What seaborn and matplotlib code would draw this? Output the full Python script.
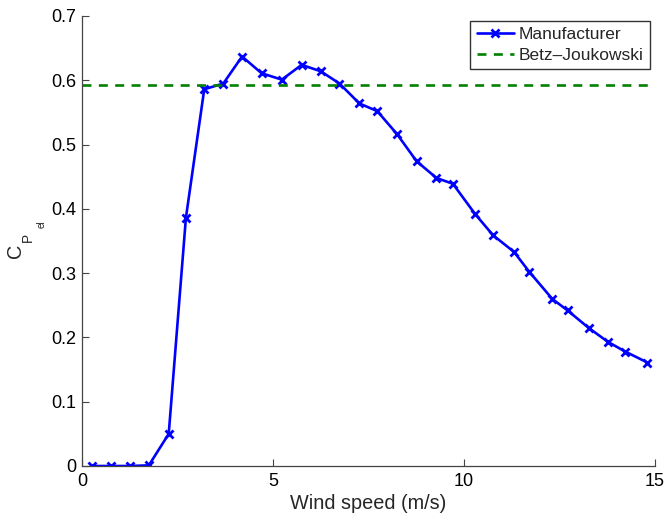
import matplotlib
matplotlib.use("Agg")
import matplotlib.pyplot as plt
import seaborn as sns
import pandas as pd

# Power coefficient curve from the manufacturer's datasheet
wind_speed = [0.25, 0.75, 1.25, 1.75, 2.27, 2.72, 3.2, 3.7, 4.19, 4.7,
              5.23, 5.75, 6.25, 6.74, 7.26, 7.73, 8.25, 8.76, 9.28, 9.71,
              10.29, 10.76, 11.31, 11.71, 12.31, 12.71, 13.26, 13.77, 14.22, 14.8]
cp_el = [0.0, 0.0, 0.0, 0.001, 0.05, 0.386, 0.586, 0.595, 0.637, 0.611,
         0.601, 0.624, 0.614, 0.595, 0.564, 0.552, 0.516, 0.474, 0.448, 0.439,
         0.392, 0.359, 0.333, 0.302, 0.260, 0.242, 0.215, 0.193, 0.178, 0.161]
betz_limit = 16 / 27

series_names = ["Manufacturer", "Betz\u2013Joukowski"]
x_ticks = [0, 5, 10, 15]
y_ticks = [0, 0.1, 0.2, 0.3, 0.4, 0.5, 0.6, 0.7]

sns.set_style("ticks")
plt.rcParams["font.family"] = ["Liberation Sans", "DejaVu Sans"]

W, H = 666, 513
df = pd.DataFrame({"v": wind_speed, "cp": cp_el})

fig = plt.figure(figsize=(W / 100, H / 100), dpi=100)
ax = fig.add_axes([82 / W, 1 - 466 / H, 573 / W, 450 / H])

sns.lineplot(data=df, x="v", y="cp", ax=ax, color=(0, 0, 1), lw=1.9,
             marker="x", markersize=5.5, markeredgewidth=2.0,
             markeredgecolor=(0, 0, 1), label=series_names[0])
ax.axhline(betz_limit, color=(0, 0.5, 0), lw=1.9, ls=(0, (3.4, 2.8)),
           label=series_names[1])

ax.set_xlim(0, 15)
ax.set_ylim(0, 0.7)
ax.set_xticks(x_ticks)
ax.set_xticklabels([str(t) for t in x_ticks])
ax.set_yticks(y_ticks)
ax.set_yticklabels(["0"] + [f"{t:.1f}" for t in y_ticks[1:]])
ax.tick_params(direction="in", length=5, width=0.8, colors="#444444",
               labelsize=13, labelcolor="black")
ax.tick_params(axis="x", pad=5)
ax.tick_params(axis="y", pad=4)

for side in ("top", "right"):
    ax.spines[side].set_visible(False)
for side in ("left", "bottom"):
    ax.spines[side].set_color("#444444")
    ax.spines[side].set_linewidth(0.9)

ax.set_xlabel("Wind speed (m/s)", fontsize=14.3, labelpad=3)
ax.set_ylabel("")

# y-axis label: C with subscript P and sub-subscript el, set as rotated pieces
label_parts = [("C", 14.3, 21.5, 251), ("P", 9.8, 31.5, 237), ("el", 7.2, 45.0, 224)]
for txt, size, xb, yc in label_parts:
    fig.text(xb / W, 1 - yc / H, txt, fontsize=size, rotation=90,
             rotation_mode="anchor", ha="center", va="baseline")

leg = ax.legend(loc="upper right", bbox_to_anchor=(0.9913, 0.9889), fontsize=12.5,
                frameon=True, fancybox=False, edgecolor="black",
                borderpad=0.35, handlelength=2.15, handletextpad=0.3,
                labelspacing=0.3, borderaxespad=0.0)
leg.get_frame().set_linewidth(1.0)

fig.savefig("out.png", dpi=100, facecolor="white")
